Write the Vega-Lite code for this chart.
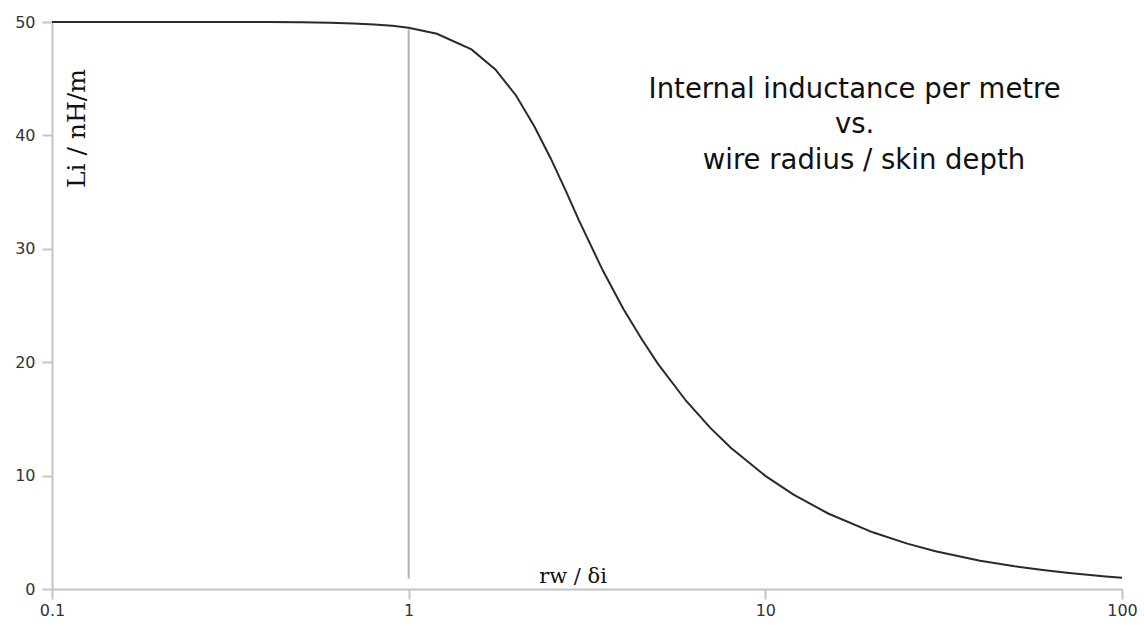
{
  "$schema": "https://vega.github.io/schema/vega-lite/v6.json",
  "autosize": "none",
  "width": 1070,
  "height": 567,
  "padding": {"left": 52, "top": 22, "right": 22, "bottom": 37},
  "background": "white",
  "config": {"view": {"stroke": null}},
  "datasets": {
    "curve": [
      {"ratio": 0.1, "L": 50}, {"ratio": 0.2, "L": 50}, {"ratio": 0.3, "L": 50},
      {"ratio": 0.4, "L": 49.99}, {"ratio": 0.5, "L": 49.97}, {"ratio": 0.6, "L": 49.93},
      {"ratio": 0.7, "L": 49.87}, {"ratio": 0.8, "L": 49.79}, {"ratio": 0.9, "L": 49.67},
      {"ratio": 1.0, "L": 49.49}, {"ratio": 1.2, "L": 48.96}, {"ratio": 1.5, "L": 47.58},
      {"ratio": 1.75, "L": 45.82}, {"ratio": 2.0, "L": 43.52}, {"ratio": 2.25, "L": 40.8},
      {"ratio": 2.5, "L": 37.99}, {"ratio": 2.75, "L": 35.2}, {"ratio": 3.0, "L": 32.53},
      {"ratio": 3.5, "L": 28.1}, {"ratio": 4.0, "L": 24.7}, {"ratio": 4.5, "L": 22.05},
      {"ratio": 5, "L": 19.85}, {"ratio": 6, "L": 16.58}, {"ratio": 7, "L": 14.23},
      {"ratio": 8, "L": 12.46}, {"ratio": 10, "L": 9.98}, {"ratio": 12, "L": 8.32},
      {"ratio": 15, "L": 6.66}, {"ratio": 20, "L": 5.0}, {"ratio": 25, "L": 4.0},
      {"ratio": 30, "L": 3.33}, {"ratio": 40, "L": 2.5}, {"ratio": 50, "L": 2.0},
      {"ratio": 60, "L": 1.67}, {"ratio": 70, "L": 1.43}, {"ratio": 80, "L": 1.25},
      {"ratio": 90, "L": 1.11}, {"ratio": 100, "L": 1.0}
    ],
    "marker": [{"ratio": 1, "y0": 0.9, "y1": 49.4}]
  },
  "layer": [
    {
      "data": {"name": "marker"},
      "mark": {"type": "rule", "color": "#b4b4b4", "strokeWidth": 2},
      "encoding": {
        "x": {"field": "ratio", "type": "quantitative", "scale": {"type": "log", "domain": [0.1, 100]},
              "axis": {"values": [0.1, 1, 10, 100], "format": "~g", "title": null, "grid": false,
                       "domainColor": "#c4c4c4", "domainWidth": 2, "tickColor": "#c4c4c4", "tickWidth": 2, "tickSize": 10,
                       "labelFont": "DejaVu Sans", "labelFontSize": 16, "labelColor": "#333333", "labelPadding": 3,
                       "labelFlush": false}},
        "y": {"field": "y0", "type": "quantitative", "scale": {"domain": [0, 50], "nice": false},
              "axis": {"values": [0, 10, 20, 30, 40, 50], "title": null, "grid": false,
                       "domainColor": "#c4c4c4", "domainWidth": 2, "tickColor": "#c4c4c4", "tickWidth": 2, "tickSize": 10,
                       "labelFont": "DejaVu Sans", "labelFontSize": 16, "labelColor": "#333333", "labelPadding": 7}},
        "y2": {"field": "y1"}
      }
    },
    {
      "data": {"name": "curve"},
      "mark": {"type": "line", "color": "#2a2a2a", "strokeWidth": 2},
      "encoding": {
        "x": {"field": "ratio", "type": "quantitative"},
        "y": {"field": "L", "type": "quantitative"}
      }
    },
    {
      "data": {"values": [{}]},
      "mark": {"type": "text", "font": "DejaVu Sans", "fontSize": 27.5, "color": "#111111", "align": "center", "baseline": "middle"},
      "encoding": {
        "x": {"datum": 17.8},
        "y": {"datum": 44.0},
        "text": {"value": "Internal inductance per metre"}
      }
    },
    {
      "data": {"values": [{}]},
      "mark": {"type": "text", "font": "DejaVu Sans", "fontSize": 27.5, "color": "#111111", "align": "center", "baseline": "middle"},
      "encoding": {
        "x": {"datum": 17.8},
        "y": {"datum": 40.9},
        "text": {"value": "vs."}
      }
    },
    {
      "data": {"values": [{}]},
      "mark": {"type": "text", "font": "DejaVu Sans", "fontSize": 27.5, "color": "#111111", "align": "center", "baseline": "middle"},
      "encoding": {
        "x": {"datum": 18.9},
        "y": {"datum": 37.7},
        "text": {"value": "wire radius / skin depth"}
      }
    },
    {
      "data": {"values": [{}]},
      "mark": {"type": "text", "font": "DejaVu Serif", "fontSize": 25, "color": "#111111", "align": "center", "baseline": "middle", "angle": 270},
      "encoding": {
        "x": {"datum": 0.1175},
        "y": {"datum": 40.6},
        "text": {"value": "Li / nH/m"}
      }
    },
    {
      "data": {"values": [{}]},
      "mark": {"type": "text", "font": "DejaVu Serif", "fontSize": 21, "color": "#111111", "align": "center", "baseline": "middle"},
      "encoding": {
        "x": {"datum": 2.89},
        "y": {"datum": 1.1},
        "text": {"value": "rw / δi"}
      }
    }
  ]
}
